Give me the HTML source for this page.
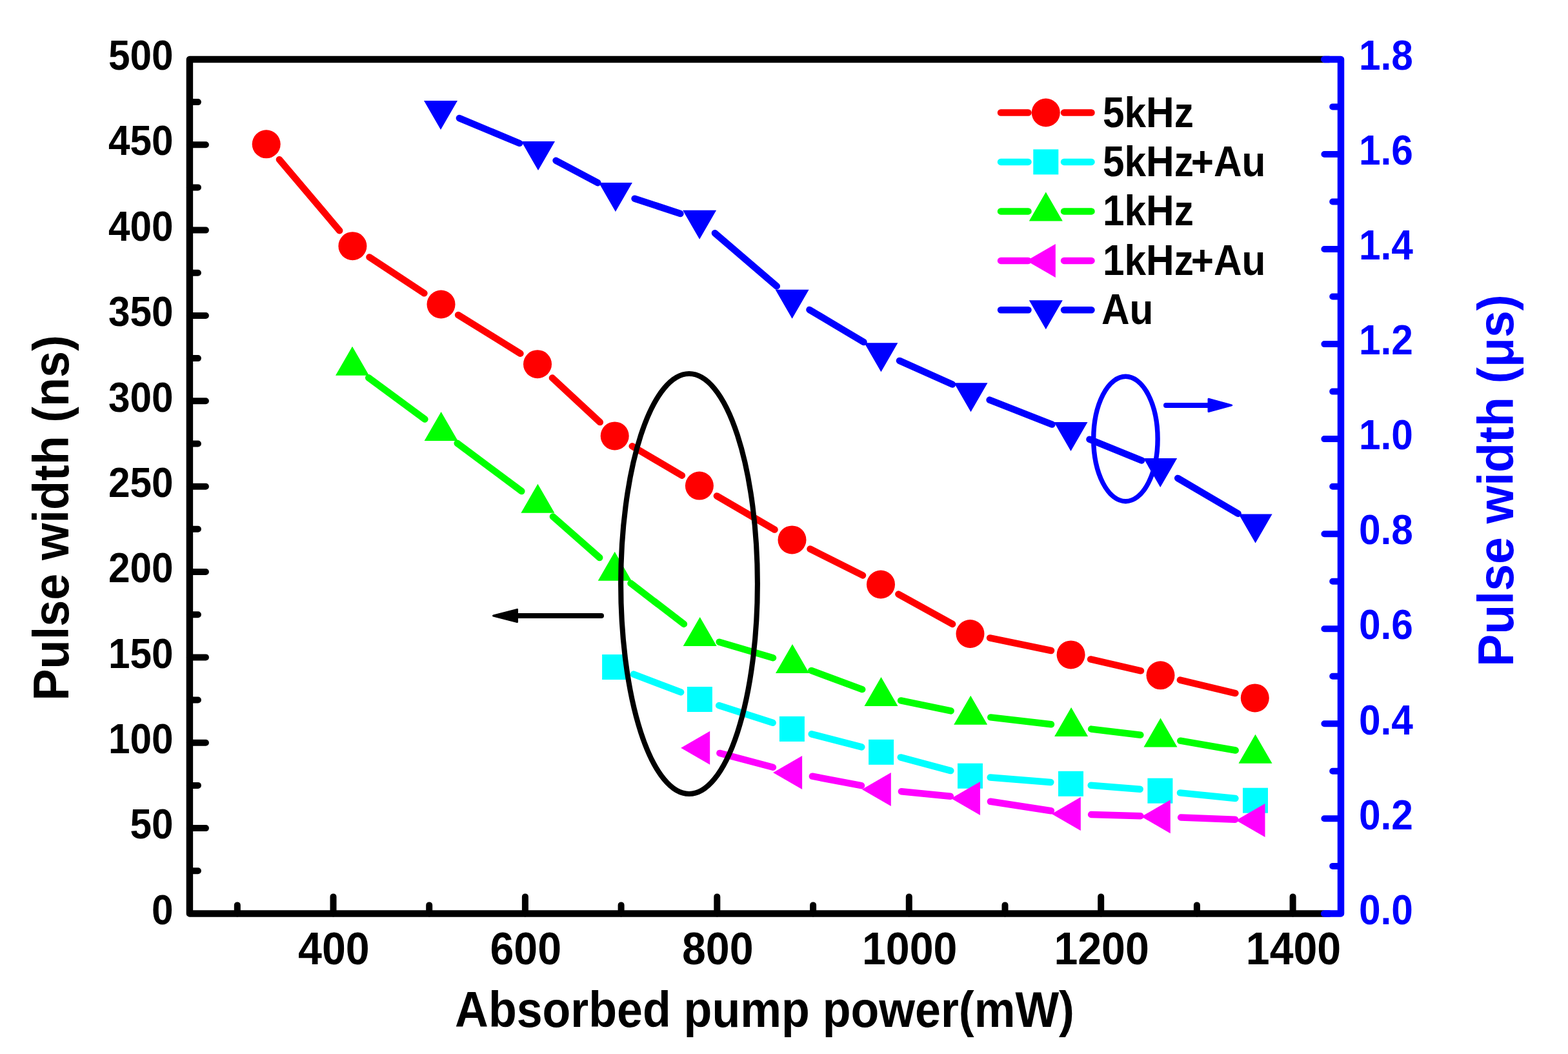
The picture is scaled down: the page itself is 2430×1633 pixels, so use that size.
<!DOCTYPE html>
<html><head><meta charset="utf-8"><title>Pulse width vs absorbed pump power</title>
<style>html,body{margin:0;padding:0;background:#fff;}svg{display:block;}</style>
</head><body>
<svg width="2430" height="1633" viewBox="0 0 2430 1633">
<rect width="2430" height="1633" fill="#fff"/>
<path d="M432.9 247.2L526.2 357.3M572.5 398.4L657.4 454.3M710.1 488.0L806.4 547.7M855.9 585.5L929.8 654.1M979.7 691.3L1056.9 736.7M1110.9 768.4L1200.5 820.6M1255.5 850.5L1337.0 891.4M1392.4 920.6L1476.1 966.9M1534.1 988.4L1629.0 1008.0M1690.1 1021.4L1768.0 1039.3M1828.9 1053.6L1914.4 1074.1" stroke="#ff0000" stroke-width="10.5" stroke-linecap="round" fill="none"/>
<g><circle cx="412.7" cy="223.3" r="22.0" fill="#ff0000"/><circle cx="546.4" cy="381.2" r="22.0" fill="#ff0000"/><circle cx="683.5" cy="471.5" r="22.0" fill="#ff0000"/><circle cx="833.0" cy="564.2" r="22.0" fill="#ff0000"/><circle cx="952.7" cy="675.4" r="22.0" fill="#ff0000"/><circle cx="1083.9" cy="752.6" r="22.0" fill="#ff0000"/><circle cx="1227.5" cy="836.4" r="22.0" fill="#ff0000"/><circle cx="1365.0" cy="905.5" r="22.0" fill="#ff0000"/><circle cx="1503.5" cy="982.0" r="22.0" fill="#ff0000"/><circle cx="1659.6" cy="1014.4" r="22.0" fill="#ff0000"/><circle cx="1798.5" cy="1046.3" r="22.0" fill="#ff0000"/><circle cx="1944.8" cy="1081.4" r="22.0" fill="#ff0000"/></g>
<path d="M981.9 1044.6L1055.1 1072.4M1114.2 1093.1L1197.6 1119.8M1257.7 1137.3L1335.3 1157.4M1395.8 1173.4L1473.3 1194.1M1534.7 1204.6L1628.3 1211.9M1690.7 1216.8L1766.7 1222.7M1829.0 1228.4L1914.4 1237.0" stroke="#00ffff" stroke-width="10.5" stroke-linecap="round" fill="none"/>
<g><rect x="933.1" y="1014.0" width="39.0" height="39.0" fill="#00ffff"/><rect x="1064.9" y="1064.0" width="39.0" height="39.0" fill="#00ffff"/><rect x="1207.9" y="1109.9" width="39.0" height="39.0" fill="#00ffff"/><rect x="1346.1" y="1145.8" width="39.0" height="39.0" fill="#00ffff"/><rect x="1484.0" y="1182.7" width="39.0" height="39.0" fill="#00ffff"/><rect x="1640.0" y="1194.8" width="39.0" height="39.0" fill="#00ffff"/><rect x="1778.4" y="1205.7" width="39.0" height="39.0" fill="#00ffff"/><rect x="1926.0" y="1220.7" width="39.0" height="39.0" fill="#00ffff"/></g>
<path d="M571.2 585.3L658.4 649.5M708.7 686.7L808.3 761.0M856.9 800.4L929.2 864.0M977.5 903.7L1059.9 966.9M1114.7 994.7L1198.0 1019.2M1257.3 1038.9L1336.2 1068.1M1396.1 1085.4L1473.6 1101.4M1535.3 1111.4L1629.0 1122.3M1691.2 1129.6L1767.4 1138.7M1829.3 1147.7L1914.7 1162.5" stroke="#00ff00" stroke-width="10.5" stroke-linecap="round" fill="none"/>
<g><path d="M546.0 536.8L572.0 581.8L520.0 581.8Z" fill="#00ff00"/><path d="M683.6 638.0L709.6 683.0L657.6 683.0Z" fill="#00ff00"/><path d="M833.4 749.7L859.4 794.7L807.4 794.7Z" fill="#00ff00"/><path d="M952.7 854.7L978.7 899.7L926.7 899.7Z" fill="#00ff00"/><path d="M1084.7 955.9L1110.7 1000.9L1058.7 1000.9Z" fill="#00ff00"/><path d="M1228.0 998.0L1254.0 1043.0L1202.0 1043.0Z" fill="#00ff00"/><path d="M1365.5 1049.0L1391.5 1094.0L1339.5 1094.0Z" fill="#00ff00"/><path d="M1504.2 1077.8L1530.2 1122.8L1478.2 1122.8Z" fill="#00ff00"/><path d="M1660.1 1095.9L1686.1 1140.9L1634.1 1140.9Z" fill="#00ff00"/><path d="M1798.5 1112.4L1824.5 1157.4L1772.5 1157.4Z" fill="#00ff00"/><path d="M1945.5 1137.8L1971.5 1182.8L1919.5 1182.8Z" fill="#00ff00"/></g>
<path d="M1115.4 1166.9L1197.9 1188.8M1258.9 1202.7L1335.0 1217.2M1396.9 1226.2L1472.9 1233.8M1534.9 1241.8L1628.9 1256.2M1691.1 1262.0L1767.5 1264.3M1830.1 1266.5L1914.2 1269.7" stroke="#ff00ff" stroke-width="10.5" stroke-linecap="round" fill="none"/>
<g><path d="M1055.2 1158.8L1100.2 1132.8L1100.2 1184.8Z" fill="#ff00ff"/><path d="M1198.1 1196.9L1243.1 1170.9L1243.1 1222.9Z" fill="#ff00ff"/><path d="M1335.8 1223.0L1380.8 1197.0L1380.8 1249.0Z" fill="#ff00ff"/><path d="M1474.0 1237.0L1519.0 1211.0L1519.0 1263.0Z" fill="#ff00ff"/><path d="M1629.8 1261.0L1674.8 1235.0L1674.8 1287.0Z" fill="#ff00ff"/><path d="M1768.8 1265.3L1813.8 1239.3L1813.8 1291.3Z" fill="#ff00ff"/><path d="M1915.5 1270.9L1960.5 1244.9L1960.5 1296.9Z" fill="#ff00ff"/></g>
<path d="M711.9 183.1L805.1 222.0M861.6 248.8L926.3 283.2M983.6 307.7L1054.4 331.0M1107.9 361.2L1203.8 443.4M1254.5 479.9L1338.5 530.1M1394.0 558.9L1475.9 595.5M1533.6 619.6L1630.4 657.6M1688.5 680.7L1769.2 713.4M1825.2 740.9L1918.6 795.8" stroke="#0000ff" stroke-width="10.5" stroke-linecap="round" fill="none"/>
<g><path d="M683.0 201.0L709.0 156.0L657.0 156.0Z" fill="#0000ff"/><path d="M834.0 264.1L860.0 219.1L808.0 219.1Z" fill="#0000ff"/><path d="M953.9 327.9L979.9 282.9L927.9 282.9Z" fill="#0000ff"/><path d="M1084.1 370.8L1110.1 325.8L1058.1 325.8Z" fill="#0000ff"/><path d="M1227.6 493.8L1253.6 448.8L1201.6 448.8Z" fill="#0000ff"/><path d="M1365.4 576.2L1391.4 531.2L1339.4 531.2Z" fill="#0000ff"/><path d="M1504.5 638.2L1530.5 593.2L1478.5 593.2Z" fill="#0000ff"/><path d="M1659.5 699.0L1685.5 654.0L1633.5 654.0Z" fill="#0000ff"/><path d="M1798.2 755.1L1824.2 710.1L1772.2 710.1Z" fill="#0000ff"/><path d="M1945.6 841.6L1971.6 796.6L1919.6 796.6Z" fill="#0000ff"/></g>
<ellipse cx="1068" cy="904.5" rx="105.9" ry="325.5" fill="none" stroke="#000" stroke-width="8.1"/>
<ellipse cx="1744.4" cy="680" rx="49.7" ry="96.7" fill="none" stroke="#0000ff" stroke-width="7.4"/>
<path d="M932 954L800 954" stroke="#000" stroke-width="8" stroke-linecap="round"/>
<path d="M764.5 954L801.5 944.4L801.5 963.6Z" fill="#000" stroke="#000" stroke-width="3" stroke-linejoin="round"/>
<path d="M1807 627.9L1875 627.9" stroke="#0000ff" stroke-width="8" stroke-linecap="round"/>
<path d="M1908.7 627.9L1873 618.3L1873 637.5Z" fill="#0000ff" stroke="#0000ff" stroke-width="3" stroke-linejoin="round"/>
<path d="M293.9 1349.2H306.9M293.9 1283.1H318.9M293.9 1216.9H306.9M293.9 1150.7H318.9M293.9 1084.5H306.9M293.9 1018.4H318.9M293.9 952.2H306.9M293.9 886.0H318.9M293.9 819.8H306.9M293.9 753.7H318.9M293.9 687.5H306.9M293.9 621.3H318.9M293.9 555.1H306.9M293.9 489.0H318.9M293.9 422.8H306.9M293.9 356.6H318.9M293.9 290.4H306.9M293.9 224.2H318.9M293.9 158.1H306.9M367.8 1415.4V1402.4M516.5 1415.4V1389.4M665.2 1415.4V1402.4M813.9 1415.4V1389.4M962.6 1415.4V1402.4M1111.3 1415.4V1389.4M1260.1 1415.4V1402.4M1408.8 1415.4V1389.4M1557.5 1415.4V1402.4M1706.2 1415.4V1389.4M1854.9 1415.4V1402.4M2003.6 1415.4V1389.4" stroke="#000" stroke-width="10" stroke-linecap="round" fill="none"/>
<path d="M2052 91.9H293.9V1415.4H2052" stroke="#000" stroke-width="10.5" fill="none" stroke-linejoin="round"/>
<path d="M2078.0 1341.9H2065.2M2078.0 1268.3H2052.4M2078.0 1194.8H2065.2M2078.0 1121.3H2052.4M2078.0 1047.8H2065.2M2078.0 974.2H2052.4M2078.0 900.7H2065.2M2078.0 827.2H2052.4M2078.0 753.7H2065.2M2078.0 680.1H2052.4M2078.0 606.6H2065.2M2078.0 533.1H2052.4M2078.0 459.5H2065.2M2078.0 386.0H2052.4M2078.0 312.5H2065.2M2078.0 239.0H2052.4M2078.0 165.4H2065.2" stroke="#0000ff" stroke-width="10" stroke-linecap="round" fill="none"/>
<path d="M2052 91.9H2078.0V1415.4H2052" stroke="#0000ff" stroke-width="10.5" fill="none" stroke-linejoin="round"/>
<path d="M2060 91.9H2052.2M2060 1415.4H2052.2" stroke="#0000ff" stroke-width="10.5" stroke-linecap="round"/>
<g font-family='"Liberation Sans", Arial, Helvetica, sans-serif' font-weight="bold">
<text transform="translate(268.6 1431.6) scale(1 1.070)" font-size="60.3" text-anchor="end" fill="#000">0</text>
<text transform="translate(268.6 1299.3) scale(1 1.070)" font-size="60.3" text-anchor="end" fill="#000">50</text>
<text transform="translate(268.6 1166.9) scale(1 1.070)" font-size="60.3" text-anchor="end" fill="#000">100</text>
<text transform="translate(268.6 1034.6) scale(1 1.070)" font-size="60.3" text-anchor="end" fill="#000">150</text>
<text transform="translate(268.6 902.2) scale(1 1.070)" font-size="60.3" text-anchor="end" fill="#000">200</text>
<text transform="translate(268.6 769.9) scale(1 1.070)" font-size="60.3" text-anchor="end" fill="#000">250</text>
<text transform="translate(268.6 637.5) scale(1 1.070)" font-size="60.3" text-anchor="end" fill="#000">300</text>
<text transform="translate(268.6 505.2) scale(1 1.070)" font-size="60.3" text-anchor="end" fill="#000">350</text>
<text transform="translate(268.6 372.8) scale(1 1.070)" font-size="60.3" text-anchor="end" fill="#000">400</text>
<text transform="translate(268.6 240.4) scale(1 1.070)" font-size="60.3" text-anchor="end" fill="#000">450</text>
<text transform="translate(268.6 108.1) scale(1 1.070)" font-size="60.3" text-anchor="end" fill="#000">500</text>
<text transform="translate(517.4 1494.0) scale(1 1.070)" font-size="66.3" text-anchor="middle" fill="#000">400</text>
<text transform="translate(814.8 1494.0) scale(1 1.070)" font-size="66.3" text-anchor="middle" fill="#000">600</text>
<text transform="translate(1112.2 1494.0) scale(1 1.070)" font-size="66.3" text-anchor="middle" fill="#000">800</text>
<text transform="translate(1409.7 1494.0) scale(1 1.070)" font-size="66.3" text-anchor="middle" fill="#000">1000</text>
<text transform="translate(1707.1 1494.0) scale(1 1.070)" font-size="66.3" text-anchor="middle" fill="#000">1200</text>
<text transform="translate(2004.5 1494.0) scale(1 1.070)" font-size="66.3" text-anchor="middle" fill="#000">1400</text>
<text transform="translate(2106.0 1431.6) scale(1 1.070)" font-size="60.4" text-anchor="start" fill="#0000ff">0.0</text>
<text transform="translate(2106.0 1284.5) scale(1 1.070)" font-size="60.4" text-anchor="start" fill="#0000ff">0.2</text>
<text transform="translate(2106.0 1137.5) scale(1 1.070)" font-size="60.4" text-anchor="start" fill="#0000ff">0.4</text>
<text transform="translate(2106.0 990.4) scale(1 1.070)" font-size="60.4" text-anchor="start" fill="#0000ff">0.6</text>
<text transform="translate(2106.0 843.4) scale(1 1.070)" font-size="60.4" text-anchor="start" fill="#0000ff">0.8</text>
<text transform="translate(2106.0 696.3) scale(1 1.070)" font-size="60.4" text-anchor="start" fill="#0000ff">1.0</text>
<text transform="translate(2106.0 549.3) scale(1 1.070)" font-size="60.4" text-anchor="start" fill="#0000ff">1.2</text>
<text transform="translate(2106.0 402.2) scale(1 1.070)" font-size="60.4" text-anchor="start" fill="#0000ff">1.4</text>
<text transform="translate(2106.0 255.2) scale(1 1.070)" font-size="60.4" text-anchor="start" fill="#0000ff">1.6</text>
<text transform="translate(2106.0 108.1) scale(1 1.070)" font-size="60.4" text-anchor="start" fill="#0000ff">1.8</text>
<text transform="translate(705.1 1591.0) scale(1 1.076)" font-size="71.7" text-anchor="start" fill="#000">Absorbed pump power(mW)</text>
<text transform="translate(106.1 1085.7) rotate(-90) scale(1 1.044)" font-size="73.9" text-anchor="start" fill="#000">Pulse width (ns)</text>
<text transform="translate(2345.1 1032.8) rotate(-90) scale(1 1.044)" font-size="75.2" text-anchor="start" fill="#0000ff">Pulse width (μs)</text>
<path d="M1551 174.5H1593.5M1649 174.5H1691.5" stroke="#ff0000" stroke-width="10.5" stroke-linecap="round"/>
<circle cx="1620.8" cy="174.5" r="22.0" fill="#ff0000"/>
<text transform="translate(1708.9 196.5) scale(1 1.089)" font-size="60.4" text-anchor="start" fill="#000">5kHz</text>
<path d="M1551 250.9H1593.5M1649 250.9H1691.5" stroke="#00ffff" stroke-width="10.5" stroke-linecap="round"/>
<rect x="1601.3" y="231.4" width="39.0" height="39.0" fill="#00ffff"/>
<text transform="translate(1708.9 272.9) scale(1 1.089)" font-size="60.4" text-anchor="start" fill="#000">5kHz<tspan dx="-4.2">+Au</tspan></text>
<path d="M1551 327.4H1593.5M1649 327.4H1691.5" stroke="#00ff00" stroke-width="10.5" stroke-linecap="round"/>
<path d="M1620.8 297.4L1646.8 342.4L1594.8 342.4Z" fill="#00ff00"/>
<text transform="translate(1708.9 349.4) scale(1 1.089)" font-size="60.4" text-anchor="start" fill="#000">1kHz</text>
<path d="M1551 403.9H1593.5M1649 403.9H1691.5" stroke="#ff00ff" stroke-width="10.5" stroke-linecap="round"/>
<path d="M1590.8 403.9L1635.8 377.9L1635.8 429.9Z" fill="#ff00ff"/>
<text transform="translate(1708.9 425.9) scale(1 1.089)" font-size="60.4" text-anchor="start" fill="#000">1kHz<tspan dx="-4.2">+Au</tspan></text>
<path d="M1551 480.3H1593.5M1649 480.3H1691.5" stroke="#0000ff" stroke-width="10.5" stroke-linecap="round"/>
<path d="M1620.8 510.3L1646.8 465.3L1594.8 465.3Z" fill="#0000ff"/>
<text transform="translate(1706.9 502.3) scale(1 1.089)" font-size="60.4" text-anchor="start" fill="#000">Au</text>
</g>
</svg>
</body></html>
